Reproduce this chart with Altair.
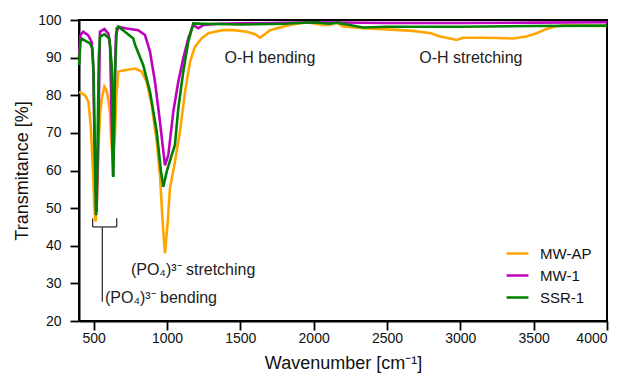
import altair as alt
import pandas as pd

# MW-AP series
mwap_wn = [400, 441, 464, 480, 495, 505, 513, 522, 535, 543, 555, 573, 585, 595, 611, 620, 632, 645, 655, 668,
           700, 782, 827, 861, 896, 930, 952, 970, 986, 1005, 1020, 1054, 1088, 1123, 1157, 1191, 1236, 1282,
           1327, 1382, 1450, 1543, 1600, 1634, 1670, 1702, 1838, 1952, 2065, 2111, 2159, 2200, 2336, 2500,
           2677, 2800, 2861, 2940, 2975, 3018, 3134, 3250, 3360, 3450, 3520, 3580, 3633, 3700, 3800, 4000]
mwap_t = [80.9, 80.0, 78.3, 72, 60, 50, 46.4, 52, 68, 74.7, 79, 82.3, 81.5, 80, 75.6, 68, 62, 70, 80, 86.3,
          86.6, 87.1, 86.3, 83.6, 77.4, 67.6, 58.8, 46.4, 38.0, 46.4, 55.2, 62.3, 70.3, 80.9, 88.9, 92.9, 95.1, 96.5,
          96.9, 97.3, 97.3, 96.9, 96.2, 95.3, 96.3, 97.3, 98.7, 99.4, 98.7, 98.7, 99.3, 98.3, 97.8, 97.5,
          97.1, 96.5, 95.6, 95.0, 94.7, 95.3, 95.3, 95.2, 95.1, 95.6, 96.5, 97.5, 98.2, 98.5, 98.5, 98.4]

# MW-1 series
mw1_wn = [400, 410, 429, 463, 486, 497, 507, 520, 532, 543, 573, 600, 612, 622, 632, 642, 652, 668, 714, 804,
          850, 884, 918, 952, 986, 1009, 1043, 1077, 1111, 1145, 1179, 1213, 1250, 1350, 1500, 2000, 2500,
          3000, 3500, 4000]
mw1_t = [90, 96.0, 96.9, 95.9, 94.2, 88, 65, 49, 70, 96.9, 97.6, 96.4, 93, 75, 58.5, 80, 96, 98.2, 97.8, 97.3,
         96.0, 91.6, 83.6, 73.0, 61.4, 64.1, 75.6, 83.6, 89.8, 95.1, 98.7, 97.8, 98.7, 99.0, 99.1, 99.4, 99.2,
         99.2, 99.3, 99.4]

# SSR-1 series
ssr1_wn = [400, 410, 420, 475, 491, 500, 510, 516, 524, 535, 543, 573, 607, 623, 634, 645, 657, 668, 713, 770,
           782, 838, 884, 930, 959, 975, 998, 1032, 1054, 1077, 1111, 1145, 1179, 1250, 1500, 1800, 2000, 2100,
           2159, 2336, 2500, 3000, 3500, 4000]
ssr1_t = [88, 94.2, 95.0, 93.8, 92.5, 85, 60, 48.1, 60, 90, 95.6, 96.2, 95.1, 88, 58.3, 85, 97.8, 98.2, 96.9, 95.1,
          93.4, 88.0, 80.9, 70.3, 59.7, 55.7, 59.7, 64.1, 66.8, 76.5, 86.3, 94.2, 99.1, 99.0, 98.8, 99.0, 99.4, 99.0,
          99.3, 98.0, 98.2, 98.2, 98.4, 98.5]

series_names = ["MW-AP", "MW-1", "SSR-1"]
series_colors = ["#FFA500", "#BF00BF", "#008000"]

x_ticks = [500, 1000, 1500, 2000, 2500, 3000, 3500, 4000]
y_ticks = [20, 30, 40, 50, 60, 70, 80, 90, 100]

# annotations
label_text = ["O-H bending", "O-H stretching"]
label_x = [1702, 3072]
label_y = [90.0, 90.0]
po4_text = ["(PO\u2084)\u00b3\u207b  stretching", "(PO\u2084)\u00b3\u207b  bending"]
po4_x = [754, 577]
po4_y = [33.6, 26.0]
bracket_x = [493, 657]
bracket_top = 47.3
bracket_bottom = 45.0
stem_x = 559
stem_bottom = 25.1

FONT = "Liberation Sans"

def frame(wn, t, name):
    return pd.DataFrame({"wn": wn, "t": t, "series": name})

xs = alt.Scale(domain=[400, 4000], nice=False)
ys = alt.Scale(domain=[20, 100], nice=False)
cs = alt.Scale(domain=series_names, range=series_colors)
x_axis = alt.Axis(values=x_ticks, format="d", labelPadding=1, titlePadding=9)
y_axis = alt.Axis(values=y_ticks, labelPadding=9, titlePadding=6)
X_TITLE = "Wavenumber [cm\u207b\u00b9]"
Y_TITLE = "Transmitance [%]"

def X(field="wn"):
    return alt.X(f"{field}:Q", scale=xs, title=X_TITLE, axis=x_axis)

def Y(field="t"):
    return alt.Y(f"{field}:Q", scale=ys, title=Y_TITLE, axis=y_axis)

def line(df):
    return alt.Chart(df).mark_line(strokeWidth=2.6).encode(
        x=X(), y=Y(),
        color=alt.Color("series:N", scale=cs, sort=series_names,
                        legend=alt.Legend(title=None, orient="none", legendX=426, legendY=221,
                                          symbolType="stroke", symbolSize=480, symbolStrokeWidth=2.5,
                                          labelFontSize=15, labelFont=FONT, labelColor="#111",
                                          rowPadding=1, labelOffset=10, padding=0)),
    )

l1 = line(frame(mwap_wn, mwap_t, "MW-AP"))
l2 = line(frame(mw1_wn, mw1_t, "MW-1"))
l3 = line(frame(ssr1_wn, ssr1_t, "SSR-1"))

lab_df = pd.DataFrame({"wn": label_x, "t": label_y, "txt": label_text})
labels = alt.Chart(lab_df).mark_text(fontSize=16, font=FONT, align="center", baseline="middle", color="#222").encode(
    x=X(), y=Y(), text="txt:N")

po4_df = pd.DataFrame({"wn": po4_x, "t": po4_y, "txt": po4_text})
po4 = alt.Chart(po4_df).mark_text(fontSize=16, font=FONT, align="left", baseline="middle", color="#222").encode(
    x=X(), y=Y(), text="txt:N")

br_df = pd.DataFrame({
    "wn": [bracket_x[0], bracket_x[0], bracket_x[1], stem_x],
    "wn2": [bracket_x[1], bracket_x[0], bracket_x[1], stem_x],
    "t": [bracket_bottom, bracket_bottom, bracket_bottom, bracket_bottom],
    "t2": [bracket_bottom, bracket_top, bracket_top, stem_bottom],
})
bracket = alt.Chart(br_df).mark_rule(color="#333", strokeWidth=1.3).encode(
    x=X(), x2="wn2:Q", y=Y(), y2="t2:Q")

chart = alt.layer(l1, l2, l3, bracket, labels, po4).properties(
    width=528, height=301, autosize="none",
    padding={"left": 79, "top": 20, "right": 20, "bottom": 55},
).configure_view(stroke="black", strokeWidth=2).configure_axis(
    domainColor="black", domainWidth=2, tickColor="black", tickWidth=1.8, tickSize=9,
    labelFont=FONT, labelFontSize=14, labelColor="#111", grid=False, labelOverlap=False,
    titleFont=FONT, titleFontSize=18, titleFontWeight="normal", titleColor="#111",
)

chart.save("out.html", embed_options={"renderer": "svg", "actions": False})
